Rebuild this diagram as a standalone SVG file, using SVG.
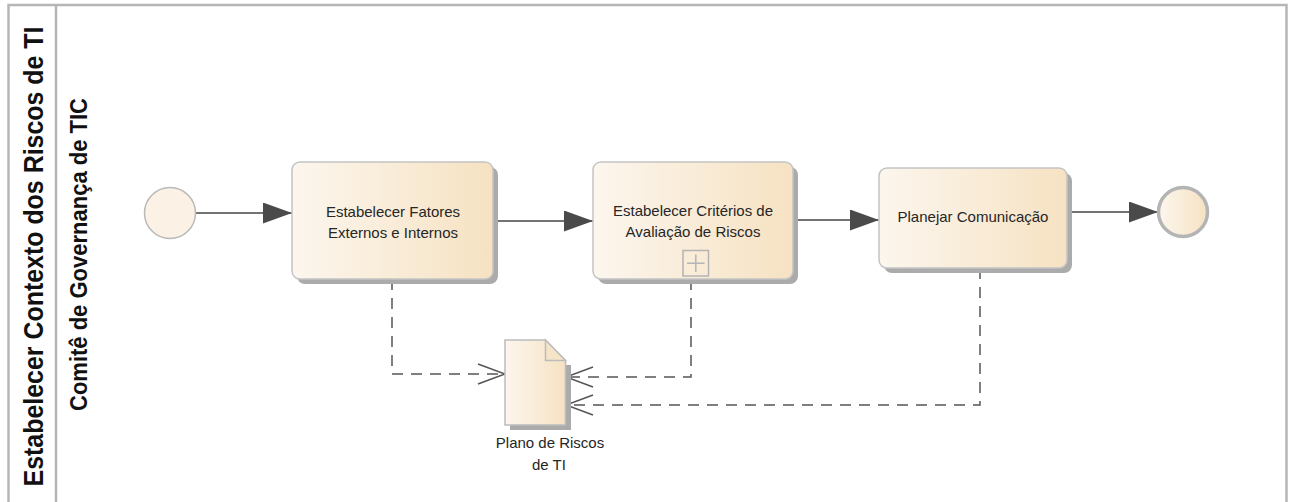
<svg xmlns="http://www.w3.org/2000/svg" width="1295" height="502" viewBox="0 0 1295 502">
<defs>
<style>
.frame{fill:none;stroke:#b6b6b6;stroke-width:2.5}
.task{stroke:#c4c4c4;stroke-width:1.5}
.shadow{fill:#ababab}
.lbl{font-family:"Liberation Sans",Arial,sans-serif;font-size:15px;fill:#262626;text-anchor:middle}
.flow{fill:none;stroke:#444;stroke-width:1.5}
.assoc{fill:none;stroke:#555;stroke-width:1.5;stroke-dasharray:11 8}
.hdr{font-family:"Liberation Sans",Arial,sans-serif;font-weight:bold;fill:#111;text-anchor:middle}
</style>
<linearGradient id="g" x1="0" y1="0" x2="1" y2="0">
<stop offset="0" stop-color="#fcf6ee"/>
<stop offset="1" stop-color="#f6e2c2"/>
</linearGradient>
<marker id="fa" markerUnits="userSpaceOnUse" markerWidth="30" markerHeight="22" refX="29" refY="10.5" orient="auto">
<path d="M0,0 L29,10.5 L0,21 z" fill="#4a4a4a"/>
</marker>
<marker id="oa" markerUnits="userSpaceOnUse" markerWidth="30" markerHeight="24" refX="28" refY="11" orient="auto">
<path d="M1,1 L28,11 L1,21" fill="none" stroke="#555" stroke-width="1.6" stroke-dasharray="none"/>
</marker>
</defs>
<rect width="1295" height="502" fill="#ffffff"/>

<g id="pool">
<path class="frame" d="M8.5,503 V5 H1286.5 V503"/>
<line class="frame" x1="56" y1="5" x2="56" y2="503"/>
<text class="hdr" font-size="28" transform="translate(43,256.5) rotate(-90)" textLength="460" lengthAdjust="spacingAndGlyphs">Estabelecer Contexto dos Riscos de TI</text>
</g>
<g id="lane">
<text class="hdr" font-size="23" transform="translate(87,254.5) rotate(-90)" textLength="313" lengthAdjust="spacingAndGlyphs">Comitê de Governança de TIC</text>
</g>

<g id="connectors">
<path class="flow" d="M196,213 H292" marker-end="url(#fa)"/>
<path class="flow" d="M493,221 H593" marker-end="url(#fa)"/>
<path class="flow" d="M793,220 H879" marker-end="url(#fa)"/>
<path class="flow" d="M1067,212 H1158" marker-end="url(#fa)"/>
<path class="assoc" d="M392,279 V374 H505" marker-end="url(#oa)"/>
<path class="assoc" d="M691,279 V377 H566" marker-end="url(#oa)"/>
<path class="assoc" d="M980,268 V405 H566" marker-end="url(#oa)"/>
</g>

<g id="start">
<circle cx="170" cy="213" r="25.5" fill="#fbf1e5" stroke="#b9b9b9" stroke-width="1.5"/>
</g>

<g id="task1">
<rect class="shadow" x="297" y="167" width="201" height="117" rx="8"/>
<rect class="task" x="292" y="162" width="201" height="117" rx="8" fill="url(#g)"/>
<text class="lbl" x="393" y="217">Estabelecer Fatores</text>
<text class="lbl" x="393" y="238">Externos e Internos</text>
</g>

<g id="task2">
<rect class="shadow" x="598" y="167" width="200" height="117" rx="8"/>
<rect class="task" x="593" y="162" width="200" height="117" rx="8" fill="url(#g)"/>
<text class="lbl" x="693" y="216">Estabelecer Critérios de</text>
<text class="lbl" x="693" y="237">Avaliação de Riscos</text>
<rect x="683" y="250.5" width="25.5" height="25.5" fill="none" stroke="#b4b4b4" stroke-width="1.5"/>
<path d="M687,263.3 H704.5 M695.8,254.5 V272" stroke="#b4b4b4" stroke-width="1.5"/>
</g>

<g id="task3">
<rect class="shadow" x="884" y="173" width="188" height="100" rx="8"/>
<rect class="task" x="879" y="168" width="188" height="100" rx="8" fill="url(#g)"/>
<text class="lbl" x="973" y="222">Planejar Comunicação</text>
</g>

<g id="end">
<circle cx="1183" cy="212" r="24.5" fill="url(#g)" stroke="#b4b4b4" stroke-width="3.5"/>
</g>

<g id="data">
<path d="M510,365 H571 V430 H510 z" fill="#ababab"/>
<path d="M505,340 H545.5 L565.5,360.5 V425 H505 z" fill="url(#g)" stroke="#bcbcbc" stroke-width="1.5"/>
<path d="M545.5,340 V360.5 H565.5 z" fill="#f6e4c8" stroke="#bcbcbc" stroke-width="1.5"/>
<text class="lbl" x="550" y="448" font-size="14">Plano de Riscos</text>
<text class="lbl" x="549" y="470" font-size="14">de TI</text>
</g>
</svg>
